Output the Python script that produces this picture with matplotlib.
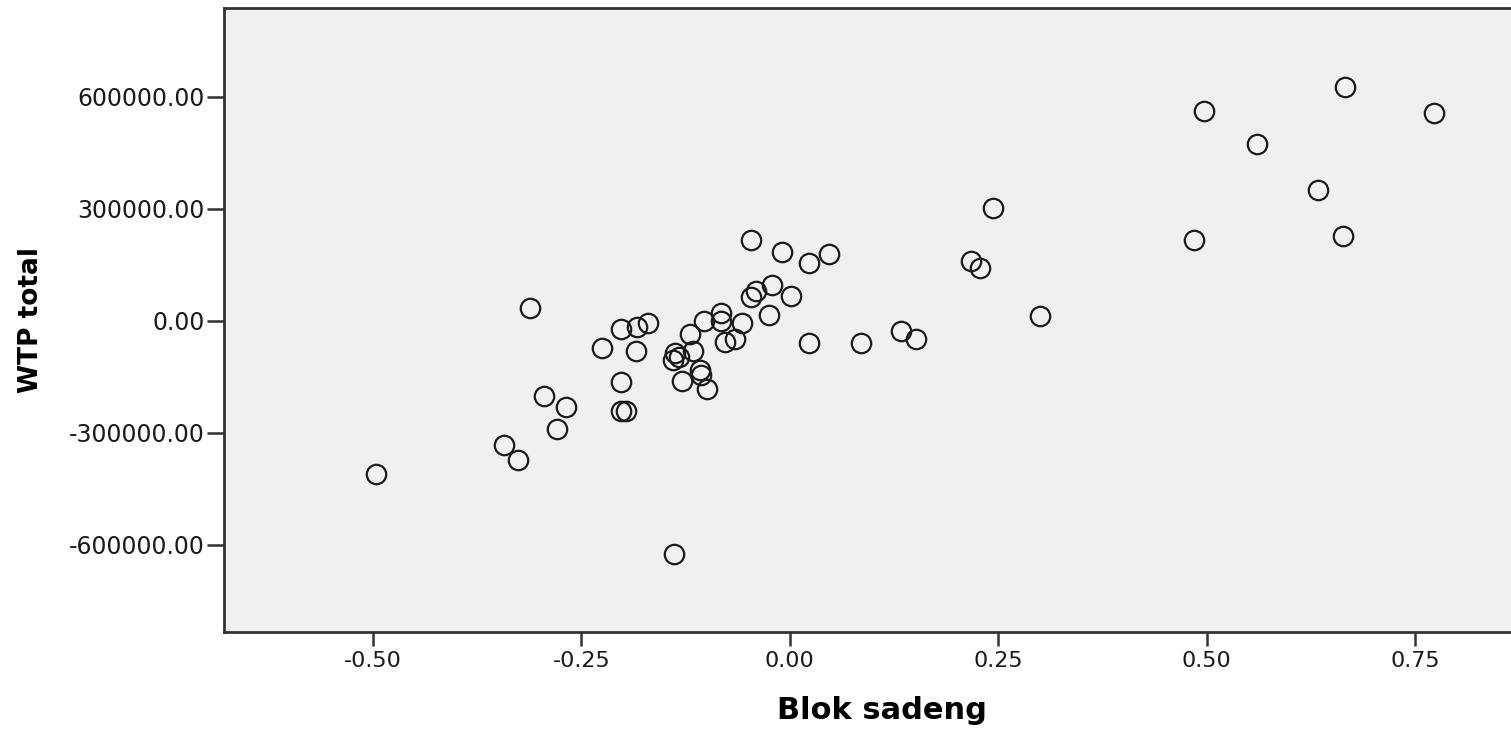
import matplotlib.pyplot as plt

# Blok sadeng vs WTP total
blok_sadeng = [-0.497, -0.343, -0.326, -0.312, -0.295, -0.269, -0.279, -0.225,
               -0.203, -0.202, -0.183, -0.185, -0.170, -0.202, -0.196, -0.139,
               -0.138, -0.133, -0.140, -0.120, -0.116, -0.129, -0.108, -0.107,
               -0.099, -0.103, -0.083, -0.082, -0.078, -0.066, -0.057, -0.047,
               -0.047, -0.041, -0.025, -0.021, -0.009, 0.001, 0.023, 0.023,
               0.047, 0.086, 0.134, 0.151, 0.217, 0.228, 0.244, 0.300,
               0.485, 0.497, 0.560, 0.634, 0.664, 0.666, 0.773]
wtp_total = [-412000, -334000, -374000, 34000, -203000, -230000, -290000, -72000,
             -21000, -165000, -18000, -80000, -7000, -241000, -241000, -624000,
             -87000, -96000, -106000, -36000, -80000, -161000, -131000, -145000,
             -184000, -2000, 22000, -2000, -58000, -50000, -7000, 217000,
             63000, 81000, 15000, 96000, 184000, 66000, 155000, -60000,
             178000, -60000, -28000, -49000, 160000, 141000, 303000, 12000,
             216000, 561000, 473000, 350000, 226000, 626000, 556000]

x_ticks = [-0.50, -0.25, 0.00, 0.25, 0.50, 0.75]
y_ticks = [-600000, -300000, 0, 300000, 600000]

fig = plt.figure(figsize=(15.11, 7.34), dpi=100)
ax = fig.add_axes([0.1482, 0.139, 0.8709, 0.8501])
ax.set_facecolor('#f0f0f0')

ax.plot(blok_sadeng, wtp_total, 'o', markersize=14, markerfacecolor='none',
        markeredgecolor='#1a1a1a', markeredgewidth=1.6, linestyle='none')

ax.set_xlim(-0.679, 0.9)
ax.set_ylim(-834000, 838000)
ax.set_xticks(x_ticks)
ax.set_xticklabels([f'{v:.2f}' for v in x_ticks])
ax.set_yticks(y_ticks)
ax.set_yticklabels([f'{v:.2f}' for v in y_ticks])

for s in ax.spines.values():
    s.set_color('#333333')
    s.set_linewidth(2)

ax.tick_params(axis='x', length=10, width=1.8, color='#333333', pad=4,
               labelsize=16, labelcolor='#1a1a1a')
ax.tick_params(axis='y', length=12, width=1.8, color='#333333', pad=2,
               labelsize=17, labelcolor='#1a1a1a')

ax.set_xlabel('Blok sadeng', fontsize=22, fontweight='bold', labelpad=18)
ax.set_ylabel('WTP total', fontsize=19, fontweight='bold', labelpad=18)

fig.savefig('out.png', dpi=100)
